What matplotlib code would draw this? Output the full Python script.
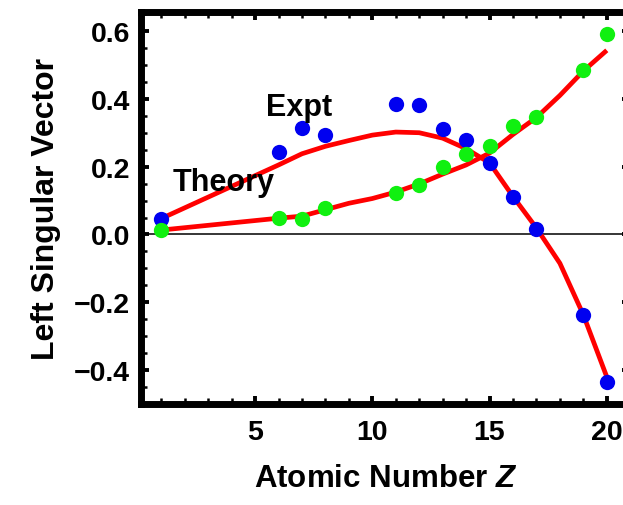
import matplotlib
matplotlib.use("Agg")
import matplotlib.pyplot as plt
from matplotlib.ticker import MultipleLocator, FixedLocator, FuncFormatter

plt.rcParams['font.family'] = ['Liberation Sans', 'DejaVu Sans']
plt.rcParams['font.weight'] = 'bold'
plt.rcParams['mathtext.fontset'] = 'custom'
plt.rcParams['mathtext.it'] = 'Liberation Sans:italic:bold'
plt.rcParams['mathtext.rm'] = 'Liberation Sans:bold'

# measured points (Z, value)
z_expt = [1, 6, 7, 8, 11, 12, 13, 14, 15, 16, 17, 19, 20]
expt_a = [0.047, 0.244, 0.314, 0.294, 0.384, 0.381, 0.311, 0.280, 0.211, 0.111, 0.017, -0.237, -0.435]
expt_b = [0.013, 0.048, 0.046, 0.078, 0.123, 0.146, 0.199, 0.236, 0.261, 0.321, 0.345, 0.486, 0.592]

# theory curves
z_theory = [1, 6, 7, 8, 9, 10, 11, 12, 13, 14, 15, 16, 17, 18, 19, 20]
theory_a = [0.047, 0.205, 0.238, 0.260, 0.277, 0.293, 0.302, 0.300, 0.284, 0.253,
            0.211, 0.112, 0.019, -0.085, -0.237, -0.420]
theory_b = [0.013, 0.048, 0.054, 0.073, 0.092, 0.106, 0.125, 0.149, 0.178, 0.205,
            0.240, 0.295, 0.345, 0.410, 0.482, 0.543]

fig = plt.figure(figsize=(6.23, 5.06), dpi=100)
ax = fig.add_axes([0.2266, 0.1996, 0.785, 0.774])

ax.axhline(0, color='black', lw=1.1, zorder=1)
ax.plot(z_theory, theory_a, color='#ff0000', lw=3.4, solid_capstyle='butt', zorder=2)
ax.plot(z_theory, theory_b, color='#ff0000', lw=3.4, solid_capstyle='butt', zorder=2)
ax.plot(z_expt, expt_a, 'o', color='#0000f0', ms=11, mec='none', zorder=3)
ax.plot(z_expt, expt_b, 'o', color='#10f010', ms=11, mec='none', zorder=4)

ax.text(1.5, 0.131, 'Theory', fontsize=22, fontweight='bold', ha='left', va='baseline')
ax.text(5.45, 0.351, 'Expt', fontsize=22, fontweight='bold', ha='left', va='baseline')

ax.set_xlim(0.14, 21)
ax.set_ylim(-0.5, 0.655)
ax.xaxis.set_major_locator(FixedLocator([5, 10, 15, 20]))
ax.xaxis.set_minor_locator(MultipleLocator(1))
ax.yaxis.set_major_locator(MultipleLocator(0.2))
ax.yaxis.set_minor_locator(MultipleLocator(0.05))
ax.yaxis.set_major_formatter(FuncFormatter(lambda v, p: f"{v:.1f}".replace('-', '\u2212')))

for s in ax.spines.values():
    s.set_linewidth(5)
ax.tick_params(which='major', direction='in', length=6, width=2.8, top=True, right=True,
               labelsize=20.5, pad=8)
ax.tick_params(which='minor', direction='in', length=4.5, width=1.8, top=True, right=True)
ax.tick_params(axis='x', which='major', pad=11)
for lab in ax.get_xticklabels() + ax.get_yticklabels():
    lab.set_fontweight('bold')

ax.set_xlabel('Atomic Number $Z$', fontsize=22.5, fontweight='bold', labelpad=13)
ax.set_ylabel('Left Singular Vector', fontsize=23, fontweight='bold', labelpad=9)

fig.savefig('out.png', dpi=100)
